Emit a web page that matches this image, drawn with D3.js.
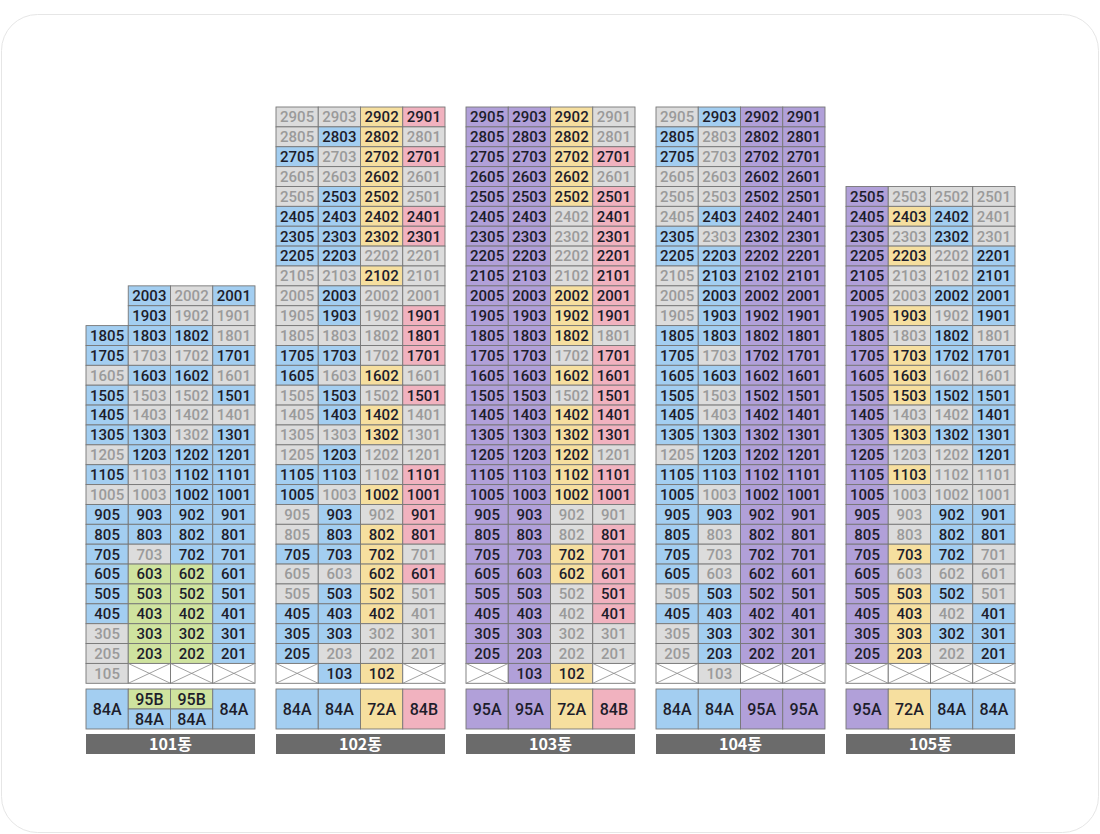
<!DOCTYPE html>
<html>
<head>
<meta charset="utf-8">
<script src="https://cdn.jsdelivr.net/npm/d3@7/dist/d3.min.js"></script>
<style>
  body { margin: 0; background: #fff; }
</style>
</head>
<body>
<div id="chart-area"></div>
<script>
const buildings = ["101동", "102동", "103동", "104동", "105동"];
const lines = ["05", "03", "02", "01"];
const floors = d3.range(29, 0, -1);

// one string per floor, top floor first, one letter per line (05,03,02,01)
// b=84A v=95A y=72A p=84B G=95B g=closed x=no unit -=nothing
const rows101 = [
  "-bgb", "-bgg", "bbbg", "bggb", "gbbg", "bggb", "bggg", "bbgb", "gbbb", "bgbb",
  "ggbb", "bbbb", "bbbb", "bgbb", "bGGb", "bGGb", "bGGb", "gGGb", "gGGb", "gxxx"
];
const rows102 = [
  "ggyp", "gbyg", "bgyp", "ggyg", "gbyg", "bbyp", "bbyp", "bbgg", "ggyg", "gbgg",
  "gbgp", "gggp", "bbgp", "bgyg", "gbgp", "gbyg", "ggyg", "gbgg", "bbgp", "bgyp",
  "gbgp", "gbyp", "bbyg", "ggyp", "gbyg", "bbyg", "bbgg", "bggg", "xbyx"
];
const rows103 = [
  "vvyg", "vvyg", "vvyp", "vvyg", "vvyp", "vvgp", "vvgp", "vvgp", "vvgp", "vvyp",
  "vvyp", "vvyg", "vvgp", "vvyp", "vvgp", "vvyp", "vvyp", "vvyg", "vvyp", "vvyp",
  "vvgg", "vvgp", "vvyp", "vvyp", "vvgp", "vvgp", "vvgg", "vvgg", "xvyx"
];
const rows104 = [
  "gbvv", "bgvv", "bgvv", "ggvv", "ggvv", "gbvv", "bgvv", "bbvv", "gbvv", "gbvv",
  "gbvv", "bbvv", "bgvv", "bbvv", "bgvv", "bgvv", "bbvv", "gbvv", "bbvv", "bgvv",
  "bbvv", "bgvv", "bgvv", "bgvv", "gbvv", "bbvv", "gbvv", "gbvv", "xgxx"
];
const rows105 = [
  "vggg", "vybg", "vgbg", "vygb", "vggb", "vgbb", "vygb", "vgbg", "vybb", "vygg",
  "vybb", "vggb", "vybb", "vggb", "vygg", "vggg", "vgbb", "vgbb", "vybg", "vggg",
  "vybg", "vygb", "vybb", "vygb", "xxxx"
];

// unit type per line, "top/bottom" when a line has two types
const types101 = ["84A", "95B/84A", "95B/84A", "84A"];
const types102 = ["84A", "84A", "72A", "84B"];
const types103 = ["95A", "95A", "72A", "84B"];
const types104 = ["84A", "84A", "95A", "95A"];
const types105 = ["95A", "72A", "84A", "84A"];

const allRows = [rows101, rows102, rows103, rows104, rows105];
const allTypes = [types101, types102, types103, types104, types105];

const fillOf = { b: "#a3cef1", v: "#b1a0d9", y: "#f6df9f", p: "#f1b2bf", G: "#cfe39f", g: "#dcdcdc" };
const typeFill = { "84A": "#a3cef1", "95A": "#b1a0d9", "72A": "#f6df9f", "84B": "#f1b2bf", "95B": "#cfe39f" };
const lineColor = "#777";
const darkText = "#1d1d2b";
const greyText = "#9a9a9a";
const font = "Roboto, 'Noto Sans', sans-serif";

const W = 1100, H = 834;

const svg = d3.select("#chart-area")
  .append("svg")
  .attr("width", W)
  .attr("height", H);

// card
svg.append("rect")
  .attr("x", 1.5).attr("y", 14.5)
  .attr("width", W - 3).attr("height", 818)
  .attr("rx", 36)
  .attr("fill", "#fff")
  .attr("stroke", "#e6e6e6");

const x = d3.scaleBand()
  .domain(buildings)
  .range([86, 1015])
  .paddingInner(21 / 190)
  .paddingOuter(0);

const col = d3.scaleBand()
  .domain(lines)
  .range([0, x.bandwidth()]);

const y = d3.scaleBand()
  .domain(floors)
  .range([107, 683.3]);

const typeTop = 689, typeH = 40;
const tagTop = 734, tagH = 20;

buildings.forEach((name, bi) => {
  const rows = allRows[bi];
  const g = svg.append("g").attr("transform", `translate(${x(name)},0)`);

  const cells = [];
  rows.forEach((r, i) => {
    const floor = rows.length - i;
    r.split("").forEach((c, j) => {
      if (c !== "-") cells.push({ floor, line: lines[j], code: c });
    });
  });

  const cell = g.selectAll("g.cell")
    .data(cells)
    .enter()
    .append("g")
    .attr("class", "cell")
    .attr("transform", d => `translate(${col(d.line)},${y(d.floor)})`);

  cell.append("rect")
    .attr("width", col.bandwidth())
    .attr("height", y.bandwidth())
    .attr("fill", d => d.code === "x" ? "#fff" : fillOf[d.code])
    .attr("stroke", lineColor)
    .attr("stroke-width", 0.9);

  const empty = cell.filter(d => d.code === "x");
  empty.append("path")
    .attr("d", `M0,0L${col.bandwidth()},${y.bandwidth()}M${col.bandwidth()},0L0,${y.bandwidth()}`)
    .attr("stroke", "#8a8a8a")
    .attr("stroke-width", 0.8)
    .attr("fill", "none");

  cell.filter(d => d.code !== "x")
    .append("text")
    .attr("x", col.bandwidth() / 2)
    .attr("y", y.bandwidth() / 2)
    .attr("dy", "0.36em")
    .attr("text-anchor", "middle")
    .attr("font-family", font)
    .attr("font-weight", 500)
    .attr("font-size", 15)
    .attr("fill", d => d.code === "g" ? greyText : darkText)
    .text(d => `${d.floor}${d.line}`);

  // unit type boxes
  const typeParts = [];
  allTypes[bi].forEach((t, j) => {
    const parts = t.split("/");
    parts.forEach((p, k) => typeParts.push({
      line: lines[j], type: p,
      y0: typeTop + k * typeH / parts.length,
      h: typeH / parts.length
    }));
  });

  const tp = g.selectAll("g.type")
    .data(typeParts)
    .enter()
    .append("g")
    .attr("class", "type")
    .attr("transform", d => `translate(${col(d.line)},${d.y0})`);

  tp.append("rect")
    .attr("width", col.bandwidth())
    .attr("height", d => d.h)
    .attr("fill", d => typeFill[d.type])
    .attr("stroke", lineColor)
    .attr("stroke-width", 0.9);

  tp.append("text")
    .attr("x", col.bandwidth() / 2)
    .attr("y", d => d.h / 2)
    .attr("dy", "0.36em")
    .attr("text-anchor", "middle")
    .attr("font-family", font)
    .attr("font-weight", 500)
    .attr("font-size", 16)
    .attr("fill", darkText)
    .text(d => d.type);

  // building tag
  g.append("rect")
    .attr("y", tagTop)
    .attr("width", x.bandwidth())
    .attr("height", tagH)
    .attr("fill", "#6b6b6b");

  g.append("text")
    .attr("x", x.bandwidth() / 2)
    .attr("y", tagTop + tagH / 2)
    .attr("dy", "0.36em")
    .attr("text-anchor", "middle")
    .attr("font-family", "'Noto Sans CJK KR', 'Noto Sans', sans-serif")
    .attr("font-weight", 700)
    .attr("font-size", 16)
    .attr("fill", "#fff")
    .text(name);
});
</script>
</body>
</html>
